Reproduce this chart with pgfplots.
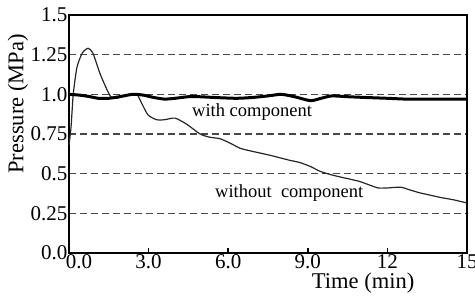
\documentclass[border=0pt]{standalone}
\usepackage{fontspec}
\setmainfont{Liberation Serif}
\usepackage{pgfplots}
\pgfplotsset{compat=1.18}
\begin{document}
\begin{tikzpicture}
\useasboundingbox (0,0) rectangle (475bp,298bp);
\begin{axis}[
  at={(69bp,45bp)}, anchor=south west,
  scale only axis, width=398bp, height=238bp,
  xmin=0, xmax=15, ymin=0, ymax=1.5,
  axis line style={line width=2bp, black},
  xtick={0,3,6,9,12,15},
  xticklabels={\hspace{20bp}0.0,3.0,6.0,9.0,12,15},
  ytick={0,0.25,0.5,0.75,1.0,1.25,1.5},
  yticklabels={0.0,0.25,0.5,0.75,1.0,1.25,1.5},
  tick align=inside,
  xtick pos=bottom,
  xtick style={line width=1.5bp, black},
  ytick style={draw=none},
  major tick length=5bp,
  ymajorgrids,
  major grid style={dash pattern=on 7bp off 4bp, line width=1.6bp, black!72},
  tick label style={font=\fontsize{21bp}{24bp}\selectfont, inner sep=1.5bp},
  xlabel={Time (min)},
  ylabel={Pressure (MPa)},
  label style={font=\fontsize{22.5bp}{26bp}\selectfont},
  xlabel style={at={(axis description cs:0.739,-0.126)}, anchor=center},
  ylabel style={at={(axis description cs:-0.128,0.626)}, anchor=center, rotate=0},
  clip=false,
]
\addplot[line width=1.2bp, black!85, smooth, tension=0.4] coordinates {
(0,0.68) (0.08,0.8) (0.16,1.0) (0.3,1.17) (0.5,1.26) (0.72,1.29) (0.9,1.26)
(1.17,1.13) (1.43,1.03) (1.6,0.98) (1.8,0.975) (2.05,0.99) (2.3,1.0) (2.56,1.0)
(2.75,0.94) (2.98,0.87) (3.3,0.84) (3.6,0.84) (4.0,0.85) (4.45,0.81) (4.94,0.75)
(5.3,0.73) (5.7,0.72) (6.1,0.69) (6.45,0.66) (6.8,0.645) (7.2,0.63) (7.6,0.615)
(7.95,0.6) (8.3,0.585) (8.7,0.57) (9.1,0.545) (9.46,0.515) (9.84,0.495) (10.2,0.48)
(10.6,0.465) (10.97,0.45) (11.3,0.43) (11.65,0.41) (12.0,0.41) (12.5,0.415)
(12.8,0.40) (13.2,0.38) (13.6,0.365) (14.0,0.35) (14.5,0.335) (15,0.315)
};
\addplot[line width=3bp, black, smooth, tension=0.4] coordinates {
(0,1.0) (0.4,0.995) (0.8,0.985) (1.1,0.975) (1.5,0.975) (1.9,0.985) (2.4,1.0)
(2.8,0.995) (3.2,0.98) (3.6,0.97) (4.0,0.975) (4.5,0.985) (4.9,0.985) (5.5,0.98)
(6.3,0.975) (6.9,0.98) (7.5,0.99) (8.0,1.0) (8.5,0.985) (9.1,0.96) (9.5,0.975)
(9.9,0.99) (10.5,0.985) (11.2,0.98) (12,0.975) (12.7,0.97) (13.5,0.97) (14.2,0.97) (15,0.97)
};
\node[font=\fontsize{18.5bp}{22bp}\selectfont] at (axis cs:6.9,0.89) {with component};
\node[font=\fontsize{18.5bp}{22bp}\selectfont] at (axis cs:8.3,0.378) {without\ \ component};
\end{axis}
\end{tikzpicture}
\end{document}
